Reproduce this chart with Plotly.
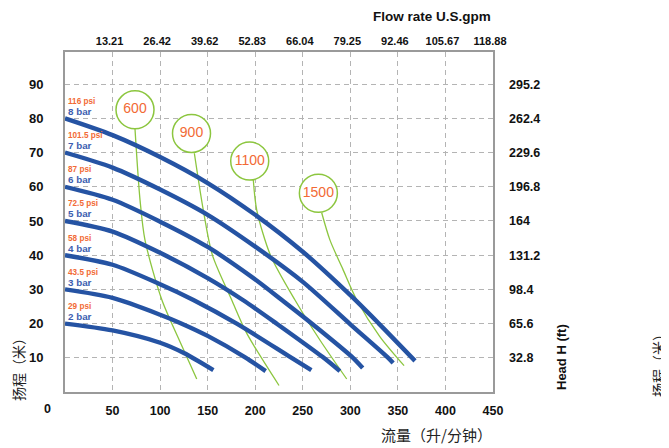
import plotly.graph_objects as go

# ---------------- data ----------------
# Pressure curves: flow (L/min) vs head (m)
flow_8bar = [0, 50, 100, 150, 200, 250, 300, 330, 368]
head_8bar = [80, 75.1, 68.7, 61.1, 51.8, 41.0, 28.3, 20.0, 9.1]
flow_7bar = [0, 50, 100, 150, 200, 250, 300, 339, 345]
head_7bar = [70, 65.6, 59.2, 51.8, 42.5, 32.2, 19.8, 10.2, 8.5]
flow_6bar = [0, 50, 100, 150, 200, 228, 260, 302, 313]
head_6bar = [60, 56.2, 49.8, 42.4, 32.9, 26.9, 19.9, 10.2, 7.0]
flow_5bar = [0, 50, 100, 150, 187, 223, 271, 289]
head_5bar = [50, 46.9, 40.7, 33.3, 26.9, 19.9, 10.2, 6.1]
flow_4bar = [0, 50, 100, 135, 181, 237, 259]
head_4bar = [40, 37.2, 31.5, 26.9, 19.9, 10.2, 6.4]
flow_3bar = [0, 50, 100, 121, 150, 189, 211]
head_3bar = [30, 27.5, 22.6, 20.2, 16.4, 10.2, 6.1]
flow_2bar = [0, 50, 100, 125, 156]
head_2bar = [20, 18.0, 14.4, 11.4, 6.4]

psi_labels = ["116 psi", "101.5 psi", "87 psi", "72.5 psi", "58 psi", "43.5 psi", "29 psi"]
bar_labels = ["8 bar", "7 bar", "6 bar", "5 bar", "4 bar", "3 bar", "2 bar"]

# Speed (stroke) curves
speed_labels = ["600", "900", "1100", "1500"]
speed_center_flow = [73.6, 133, 194.2, 266.4]
speed_center_head = [82.5, 75.6, 67.5, 58.1]
flow_600 = [73.6, 78.9, 84.1, 101.9, 120.9, 138.5]
head_600 = [76.9, 56.1, 44.4, 26.9, 14.7, 3.8]
flow_900 = [136, 145.4, 155, 175.3, 191, 225]
head_900 = [69.8, 53.2, 40, 26.9, 17.2, 1.9]
flow_1100 = [198, 201.6, 216, 241.8, 268, 296.2]
head_1100 = [62, 53.2, 40, 26.9, 15.2, 3.8]
flow_1500 = [269.9, 278.6, 292, 306.8, 331, 356.5]
head_1500 = [52.4, 44.4, 36, 26.9, 16.2, 7.7]

# Axis ticks
flow_ticks = [50, 100, 150, 200, 250, 300, 350, 400, 450]
gpm_ticks = ["13.21", "26.42", "39.62", "52.83", "66.04", "79.25", "92.46", "105.67", "118.88"]
head_ticks = [10, 20, 30, 40, 50, 60, 70, 80, 90]
feet_ticks = ["32.8", "65.6", "98.4", "131.2", "164", "196.8", "229.6", "262.4", "295.2"]

# ---------------- styles ----------------
BLUE = "#2553a3"
GREEN = "#8cc63f"
ORANGE = "#f26a35"
LBLUE = "#3d5eb0"
GRID = "#b4b4b4"
BORDER = "#9a9a9a"
FONT = "Liberation Sans, Arial, sans-serif"
NARROW = "Liberation Sans Narrow, Arial Narrow, Liberation Sans, Arial, sans-serif"
CJK = "Noto Sans CJK SC, sans-serif"

XR = [0, 450]
YR = [0, 99.4]

fig = go.Figure()

speed_curves = [(flow_600, head_600), (flow_900, head_900),
                (flow_1100, head_1100), (flow_1500, head_1500)]
for fq, fh in speed_curves:
    fig.add_trace(go.Scatter(x=fq, y=fh, mode="lines",
                             line=dict(color=GREEN, width=1.3, shape="spline", smoothing=0.8),
                             hoverinfo="skip", showlegend=False))

pressure_curves = [(flow_8bar, head_8bar), (flow_7bar, head_7bar), (flow_6bar, head_6bar),
                   (flow_5bar, head_5bar), (flow_4bar, head_4bar), (flow_3bar, head_3bar),
                   (flow_2bar, head_2bar)]
for fq, fh in pressure_curves:
    fig.add_trace(go.Scatter(x=fq, y=fh, mode="lines",
                             line=dict(color=BLUE, width=4.4, shape="spline", smoothing=0.8),
                             hoverinfo="skip", showlegend=False))

fig.add_trace(go.Scatter(x=speed_center_flow, y=speed_center_head, mode="markers+text",
                         text=speed_labels, textposition="middle center",
                         textfont=dict(family=FONT, size=14, color=ORANGE),
                         marker=dict(size=38, color="white", line=dict(color=GREEN, width=1.5)),
                         hoverinfo="skip", showlegend=False))

# dummy traces to materialise secondary axes
fig.add_trace(go.Scatter(x=[None], y=[None], xaxis="x2", yaxis="y", showlegend=False, hoverinfo="skip"))
fig.add_trace(go.Scatter(x=[None], y=[None], xaxis="x", yaxis="y2", showlegend=False, hoverinfo="skip"))

annotations = []
for (fq, fh), psi, bar in zip(pressure_curves, psi_labels, bar_labels):
    annotations.append(dict(x=fq[0], y=fh[0], xref="x", yref="y", text="<b>%s</b>" % psi,
                            xanchor="left", yanchor="middle", xshift=1, yshift=17,
                            showarrow=False, font=dict(family=FONT, size=8.2, color=ORANGE)))
    annotations.append(dict(x=fq[0], y=fh[0], xref="x", yref="y", text="<b>%s</b>" % bar,
                            xanchor="left", yanchor="middle", xshift=1, yshift=7,
                            showarrow=False, font=dict(family=FONT, size=9.8, color=LBLUE)))


# page pixel -> paper coordinate (plot area spans x 65..493, y 52..392 on the page)
def px(v):
    return (v - 65) / 428.0


def py(v):
    return (392 - v) / 340.0


annotations += [
    dict(x=px(493), y=py(16.5), xref="paper", yref="paper", text="<b>Flow rate U.S.gpm</b>",
         xanchor="right", yanchor="middle", showarrow=False,
         font=dict(family=FONT, size=13.5, color="#111")),
    dict(x=px(494), y=py(434), xref="paper", yref="paper", text="流量（升/分钟）",
         xanchor="right", yanchor="middle", showarrow=False,
         font=dict(family=CJK, size=15, color="#222")),
    dict(x=px(47), y=py(409), xref="paper", yref="paper", text="<b>0</b>",
         xanchor="center", yanchor="middle", showarrow=False,
         font=dict(family=FONT, size=12.5, color="#111")),
    dict(x=px(18), y=py(366), xref="paper", yref="paper", text="扬程（米）",
         textangle=-90, xanchor="center", yanchor="middle", showarrow=False,
         font=dict(family=CJK, size=14, color="#222")),
    dict(x=px(561), y=py(357), xref="paper", yref="paper", text="<b>Head H (ft)</b>",
         textangle=-90, xanchor="center", yanchor="middle", showarrow=False,
         font=dict(family=FONT, size=13, color="#111")),
    dict(x=px(658), y=py(362), xref="paper", yref="paper", text="扬程（米）",
         textangle=-90, xanchor="center", yanchor="middle", showarrow=False,
         font=dict(family=CJK, size=14, color="#222")),
]

# The page body has an 8px default margin, so the figure is offset by 8px.
fig.update_layout(
    width=661, height=440,
    margin=dict(l=57, r=176, t=44, b=56),
    paper_bgcolor="white", plot_bgcolor="white",
    showlegend=False,
    annotations=annotations,
    xaxis=dict(range=XR, tickvals=flow_ticks, ticktext=[str(v) for v in flow_ticks],
               showgrid=True, gridcolor=GRID, griddash="5px,4px", gridwidth=1,
               showline=True, linecolor=BORDER, linewidth=2, mirror=True,
               zeroline=False, ticks="", ticklabelstandoff=6,
               tickfont=dict(family=FONT, size=12.5, color="#111", weight="bold")),
    xaxis2=dict(range=XR, overlaying="x", side="top", anchor="y",
                tickvals=flow_ticks, ticktext=gpm_ticks, showgrid=False, showline=False,
                zeroline=False, ticks="", ticklabelstandoff=4, ticklabelshift=-3,
                tickfont=dict(family=NARROW, size=11, color="#111", weight="bold")),
    yaxis=dict(range=YR, tickvals=head_ticks, ticktext=[str(v) for v in head_ticks],
               showgrid=True, gridcolor=GRID, griddash="5px,4px", gridwidth=1,
               showline=True, linecolor=BORDER, linewidth=2, mirror=True,
               zeroline=False, ticks="", ticklabelstandoff=17,
               tickfont=dict(family=FONT, size=13, color="#111", weight="bold")),
    yaxis2=dict(range=YR, overlaying="y", side="right", anchor="x",
                tickvals=head_ticks, ticktext=feet_ticks, showgrid=False, showline=False,
                zeroline=False, ticks="", ticklabelstandoff=15,
                tickfont=dict(family=FONT, size=12.5, color="#111", weight="bold")),
)

fig.write_html("out.html", config={"displayModeBar": False})
